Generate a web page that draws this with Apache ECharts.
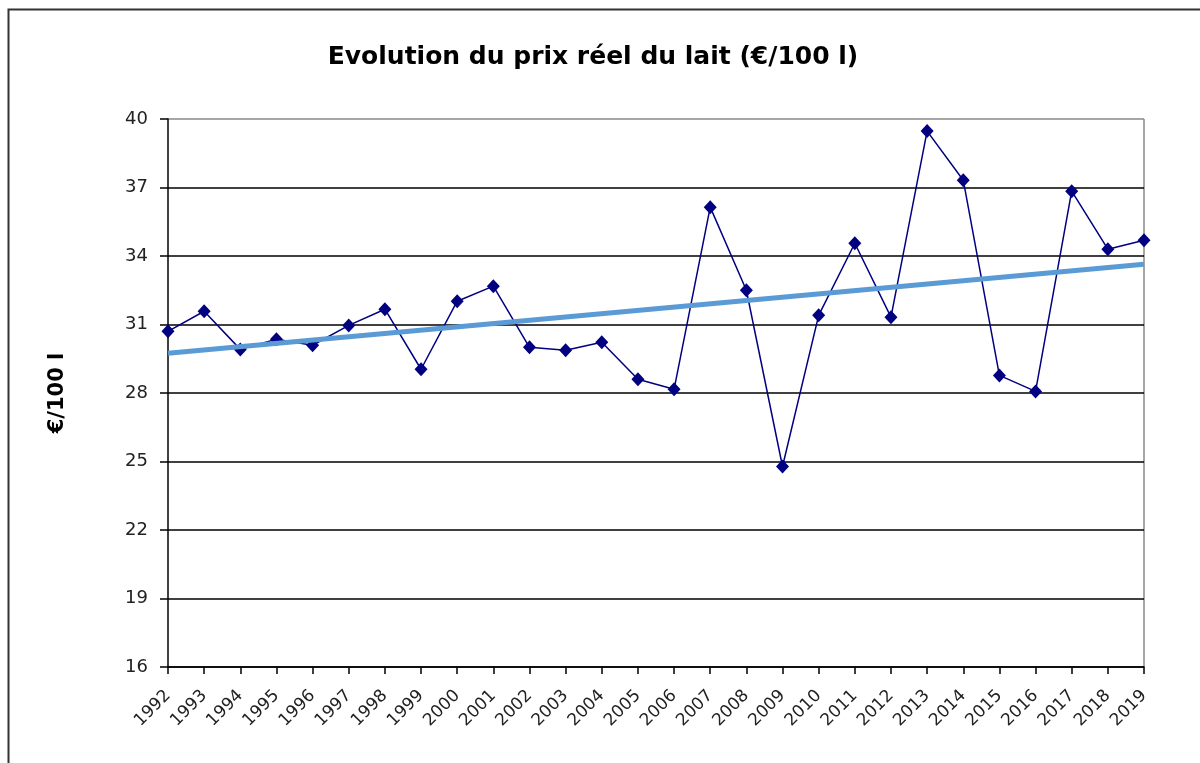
<!DOCTYPE html>
<html>
<head>
<meta charset="utf-8">
<script src="https://cdn.jsdelivr.net/npm/echarts@6/dist/echarts.min.js"></script>
<style>
  html, body { margin: 0; padding: 0; background: #fff; }
  #chart { width: 1200px; height: 763px; }
</style>
</head>
<body>
<div id="chart"></div>
<script>
// années
const years = ['1992', '1993', '1994', '1995', '1996', '1997', '1998', '1999', '2000', '2001',
  '2002', '2003', '2004', '2005', '2006', '2007', '2008', '2009', '2010', '2011',
  '2012', '2013', '2014', '2015', '2016', '2017', '2018', '2019']
// prix réel du lait (€/100 l)
const prices = [30.7, 31.58, 29.91, 30.35, 30.09, 30.96, 31.67, 29.04, 32.02, 32.68,
  30.0, 29.87, 30.22, 28.6, 28.16, 36.14, 32.5, 24.78, 31.4, 34.56,
  31.32, 39.47, 37.32, 28.77, 28.07, 36.84, 34.3, 34.69]
// courbe de tendance : valeurs aux extrémités
const trendStart = 29.74
const trendEnd = 33.64

const trend = years.map((y, i) => {
  if (i === 0) return trendStart
  if (i === years.length - 1) return trendEnd
  return null
})

const font = 'DejaVu Sans, Verdana, sans-serif'
const gridColors = ['#000', '#000', '#000', '#000', '#000', '#000', '#000', '#000', '#888']

const chart = echarts.init(document.getElementById('chart'))
chart.setOption({
  animation: false,
  title: {
    text: 'Evolution du prix réel du lait (€/100 l)',
    left: 588,
    top: 40,
    textAlign: 'center',
    textStyle: { fontFamily: font, fontSize: 25, fontWeight: 'bold', color: '#000' },
  },
  graphic: [
    {
      type: 'rect',
      shape: { x: 8.5, y: 9.5, width: 1250, height: 800 },
      style: { fill: null, stroke: '#333', lineWidth: 2 },
      silent: true,
    },
    {
      // bord droit de la zone de tracé
      type: 'line',
      shape: { x1: 1144, y1: 119, x2: 1144, y2: 667 },
      style: { stroke: '#888', lineWidth: 1.5 },
      silent: true,
    },
  ],
  grid: {
    left: 168,
    right: 56,
    top: 119,
    bottom: 96,
  },
  xAxis: {
    type: 'category',
    data: years,
    boundaryGap: false,
    axisLine: { lineStyle: { color: '#000', width: 1.5 } },
    axisTick: { show: true, length: 7, interval: 0, lineStyle: { color: '#000', width: 1.5 } },
    axisLabel: {
      interval: 0,
      rotate: 45,
      margin: 26,
      fontFamily: font,
      fontSize: 17,
      color: '#222',
    },
  },
  yAxis: {
    type: 'value',
    min: 16,
    max: 40,
    interval: 3,
    name: '€/100 l',
    nameLocation: 'middle',
    nameGap: 100,
    nameRotate: 90,
    nameTextStyle: { fontFamily: font, fontSize: 21, fontWeight: 'bold', color: '#000' },
    axisLine: { show: true, lineStyle: { color: '#000', width: 1.5 } },
    axisTick: { show: true, length: 8, lineStyle: { color: '#000', width: 1.5 } },
    axisLabel: { margin: 20, fontFamily: font, fontSize: 18, color: '#222' },
    splitLine: { show: true, lineStyle: { color: gridColors, width: 1.5 } },
  },
  series: [
    {
      name: 'Prix réel',
      type: 'line',
      data: prices,
      symbol: 'diamond',
      symbolSize: [13, 14],
      lineStyle: { color: '#000080', width: 1.5 },
      itemStyle: { color: '#000080' },
      z: 3,
    },
    {
      name: 'Tendance',
      type: 'line',
      data: trend,
      connectNulls: true,
      showSymbol: false,
      symbol: 'none',
      lineStyle: { color: '#5b9bd5', width: 5 },
      z: 4,
    },
  ],
})
</script>
</body>
</html>
